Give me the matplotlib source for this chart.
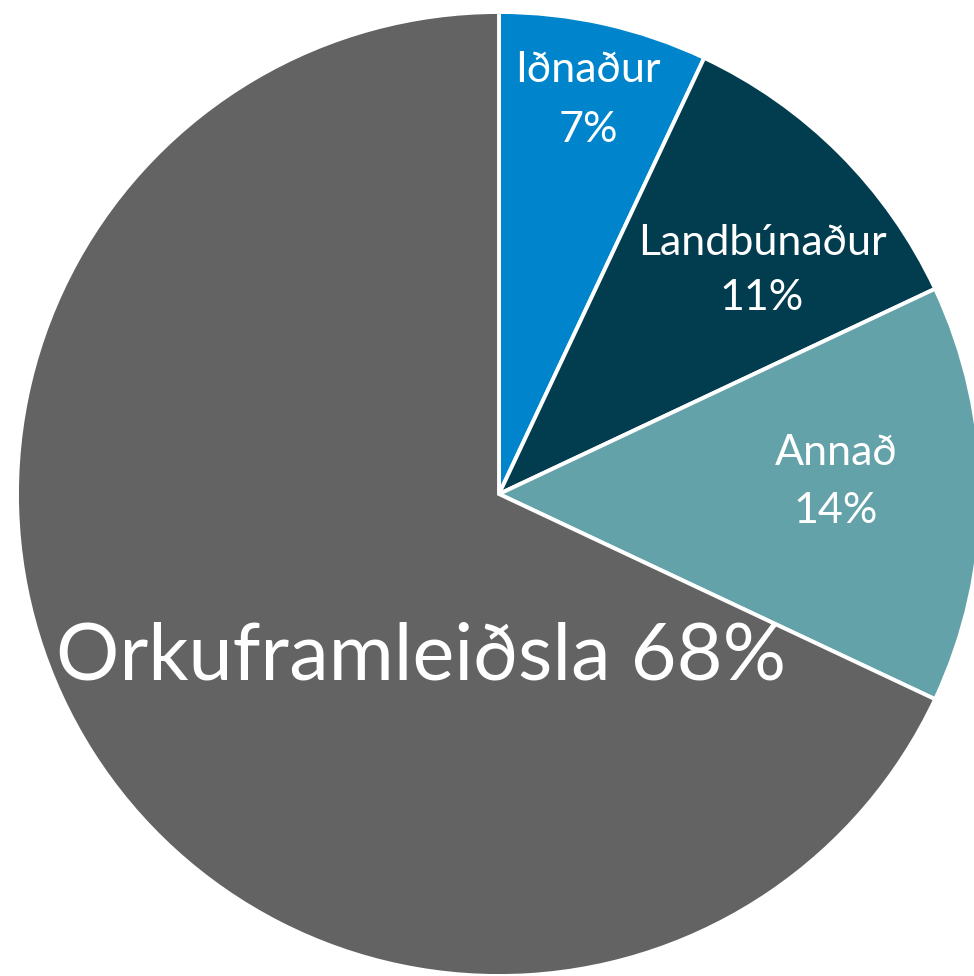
import matplotlib
matplotlib.use("Agg")
import matplotlib.pyplot as plt

categories = ["Iðnaður", "Landbúnaður", "Annað", "Orkuframleiðsla"]
values = [7, 11, 14, 68]
colors = ["#0085CC", "#023D4F", "#64A2A9", "#636363"]

W, H = 974, 976
fig = plt.figure(figsize=(W / 100, H / 100), dpi=100)
ax = fig.add_axes([0, 0, 1, 1])

cx, cy, r = 499, H - 494, 482
ax.pie(values, colors=colors, startangle=90, counterclock=False,
       center=(cx, cy), radius=r, frame=True,
       wedgeprops=dict(edgecolor="white", linewidth=2.8))
ax.set_xlim(0, W)
ax.set_ylim(0, H)
ax.set_aspect("equal")
ax.axis("off")

font = "Lato"
# label positions in pixel coords (x, y from top)
small = [(588, 70, 130), (762, 243, 298), (836, 453, 511)]
for (x, y1, y2), name, v in zip(small, categories[:3], values[:3]):
    ax.text(x, H - y1, name, ha="center", va="center", color="white",
            fontsize=31, family=font)
    ax.text(x, H - y2, f"{v}%", ha="center", va="center", color="white",
            fontsize=31, family=font)

ax.text(421, H - 657, f"{categories[3]} {values[3]}%", ha="center", va="center",
        color="white", fontsize=57, family=font)

fig.savefig("out.png", dpi=100)
